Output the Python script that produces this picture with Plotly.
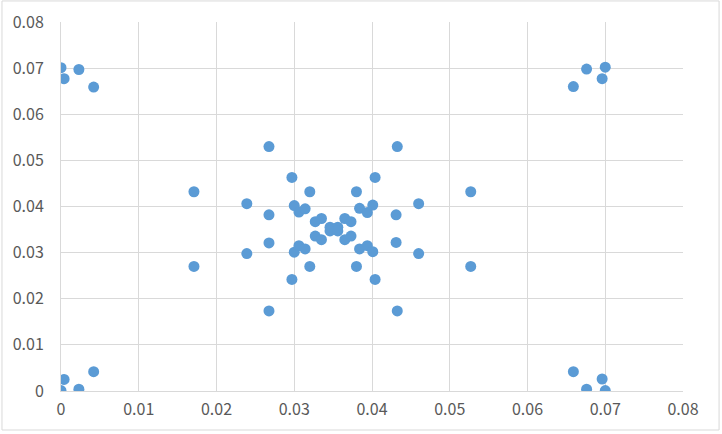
import plotly.graph_objects as go

x_values = [
    0.0000, 0.0004, 0.0023, 0.0042,
    0.0000, 0.0004, 0.0023, 0.0042,
    0.0659, 0.0676, 0.0696, 0.0700,
    0.0659, 0.0676, 0.0696, 0.0700,
    0.0171, 0.0171, 0.0239, 0.0239,
    0.02675, 0.02675, 0.02675, 0.02675,
    0.0297, 0.0297,
    0.0300, 0.0306, 0.0314, 0.0300, 0.0306, 0.0314,
    0.0320, 0.0320,
    0.0327, 0.0335, 0.0327, 0.0335,
    0.0346, 0.0356, 0.0346, 0.0356,
    0.0365, 0.0373, 0.0365, 0.0373,
    0.0380, 0.0380,
    0.0384, 0.0394, 0.0401, 0.0384, 0.0394, 0.0401,
    0.0404, 0.0404,
    0.04325, 0.0431, 0.0431, 0.04325,
    0.0460, 0.0460, 0.0527, 0.0527,
]
y_values = [
    0.0701, 0.0677, 0.0697, 0.0659,
    0.0001, 0.0025, 0.0004, 0.0042,
    0.0660, 0.0698, 0.0677, 0.0702,
    0.0042, 0.0004, 0.0026, 0.0001,
    0.0432, 0.0270, 0.0406, 0.0298,
    0.0530, 0.0382, 0.0321, 0.01735,
    0.0463, 0.0242,
    0.0402, 0.0388, 0.0395, 0.0301, 0.0315, 0.0308,
    0.0432, 0.0270,
    0.0367, 0.0374, 0.0336, 0.0328,
    0.0355, 0.0355, 0.0347, 0.0347,
    0.0374, 0.0367, 0.0328, 0.0336,
    0.0432, 0.0270,
    0.0396, 0.0387, 0.0403, 0.0308, 0.0315, 0.0302,
    0.0463, 0.0242,
    0.0530, 0.0382, 0.0322, 0.01735,
    0.0406, 0.0298, 0.0432, 0.0270,
]
tick_vals = [0, 0.01, 0.02, 0.03, 0.04, 0.05, 0.06, 0.07, 0.08]
tick_text = ["0", "0.01", "0.02", "0.03", "0.04", "0.05", "0.06", "0.07", "0.08"]

fig = go.Figure()
fig.add_trace(go.Scatter(
    x=x_values, y=y_values, mode="markers",
    marker=dict(size=11, color="#5b9bd5", line=dict(width=0)),
    showlegend=False, hoverinfo="x+y",
))

axis_common = dict(
    range=[0, 0.08], tickvals=tick_vals, ticktext=tick_text,
    showgrid=True, gridcolor="#d9d9d9", gridwidth=1,
    zeroline=False, showline=True, linecolor="#d9d9d9", linewidth=1,
    ticks="", automargin=False,
    tickfont=dict(family="Noto Sans CJK SC, Liberation Sans, sans-serif", size=16, color="#595959"),
    fixedrange=True,
)
fig.update_xaxes(**axis_common, ticklabelstandoff=4)
fig.update_yaxes(**axis_common, ticklabelstandoff=13)

fig.update_layout(
    width=722, height=434,
    margin=dict(l=61, r=39, t=22, b=43),
    paper_bgcolor="white", plot_bgcolor="white",
    shapes=[dict(type="rect", xref="paper", yref="paper",
                 x0=-0.0949, x1=1.058, y0=-0.1057, y1=1.057,
                 line=dict(color="#d9d9d9", width=1), fillcolor="rgba(0,0,0,0)", layer="below")],
)

fig.write_html(
    "out.html",
    config={"displayModeBar": False},
    post_script="document.body.style.margin='0';document.body.style.overflow='hidden';",
)
